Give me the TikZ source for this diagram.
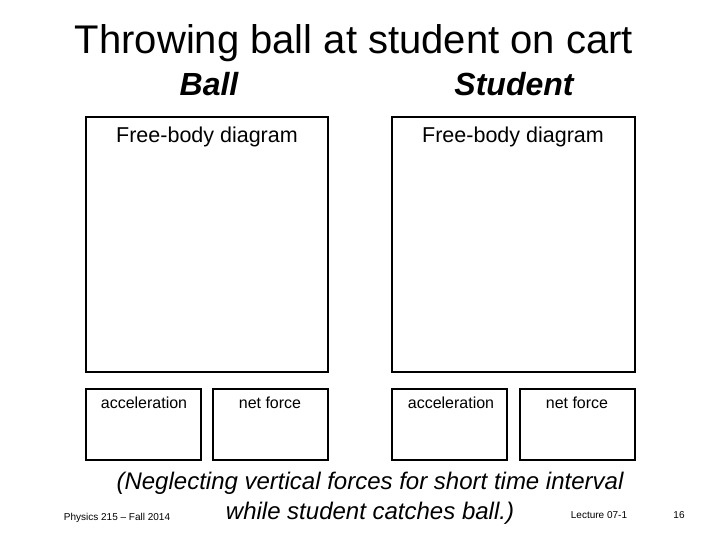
\documentclass[tikz,border=0pt]{standalone}
\usepackage{fontspec}
\setmainfont{Liberation Sans}
\begin{document}
\begin{tikzpicture}[x=1pt,y=-1pt,
  box/.style={draw=black,line width=2pt},
  lab/.style={anchor=base,inner sep=0pt,font=\fontsize{21.5}{24}\selectfont},
  sm/.style={anchor=base,inner sep=0pt,font=\fontsize{16}{18}\selectfont},
  ft/.style={anchor=base,inner sep=0pt,font=\fontsize{10}{12}\selectfont}]
\useasboundingbox (0,0) rectangle (720,540);
\node[anchor=base,inner sep=0pt] (title) at (354,54) {\fontsize{40}{44}\selectfont Throwing ball at student on cart};
\node[anchor=base,inner sep=0pt] (ball) at (209,96) {\fontsize{32}{34}\selectfont\bfseries\itshape Ball};
\node[anchor=base,inner sep=0pt] (stud) at (514,96) {\fontsize{32}{34}\selectfont\bfseries\itshape Student};
\draw[box] (86,117) rectangle (328,372);
\draw[box] (392,117) rectangle (635,372);
\node[lab] (f1) at (207,143) {Free-body diagram};
\node[lab] (f2) at (513,143) {Free-body diagram};
\draw[box] (86,389) rectangle (201,460);
\draw[box] (213,389) rectangle (328,460);
\draw[box] (392,389) rectangle (507,460);
\draw[box] (520,389) rectangle (635,460);
\node[sm] (a1) at (144,408) {acceleration};
\node[sm] (n1) at (270,408) {net force};
\node[sm] (a2) at (451,408) {acceleration};
\node[sm] (n2) at (577,408) {net force};
\node[anchor=base,inner sep=0pt,font=\fontsize{24}{28}\selectfont\itshape] (c1) at (370,489) {(Neglecting vertical forces for short time interval};
\node[anchor=base,inner sep=0pt,font=\fontsize{24}{28}\selectfont\itshape] (c2) at (370,519) {while student catches ball.)};
\node[ft] (p) at (117,520) {Physics 215 -- Fall 2014};
\node[ft] (l) at (599,518) {Lecture 07-1};
\node[ft] (n) at (679,518) {16};
\end{tikzpicture}
\end{document}
